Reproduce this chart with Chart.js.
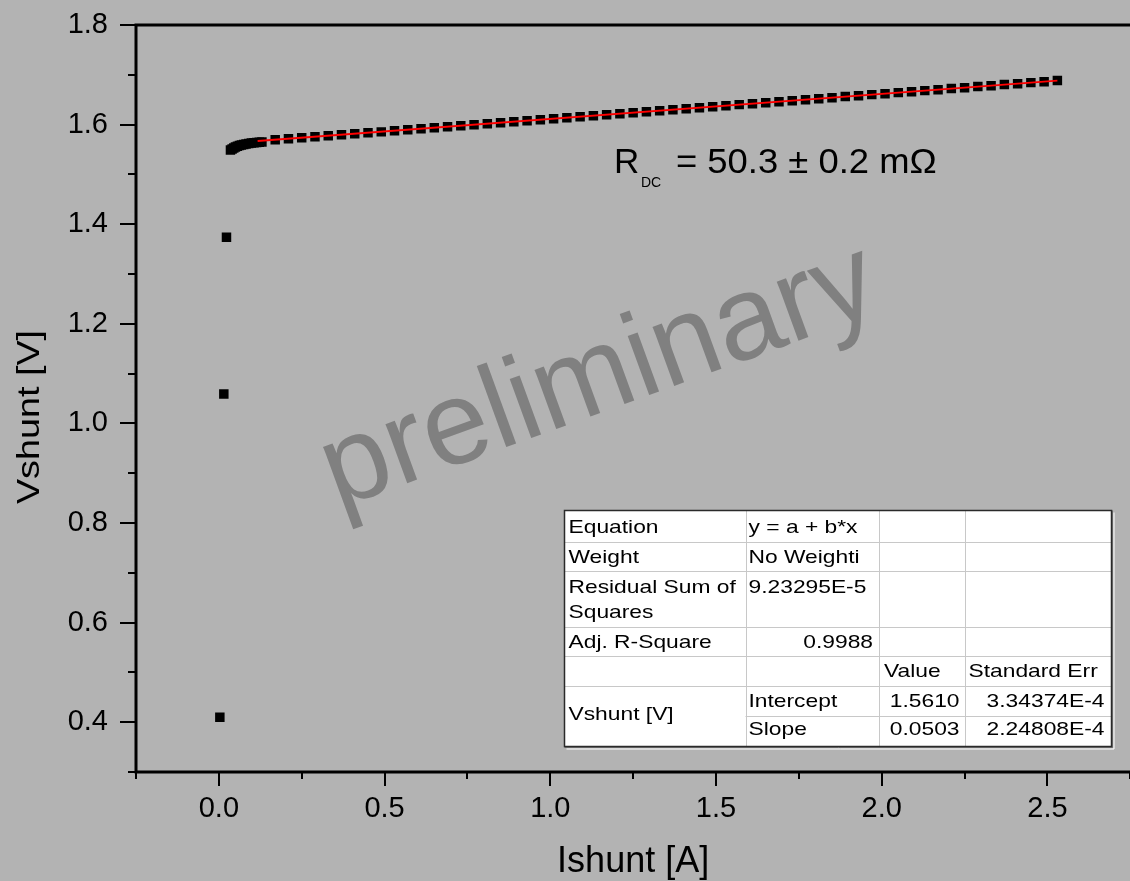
<!DOCTYPE html>
<html>
<head>
<meta charset="utf-8">
<script src="https://cdn.jsdelivr.net/npm/chart.js@4/dist/chart.umd.min.js"></script>
<style>
html,body{margin:0;padding:0;overflow:hidden;background:#b3b3b3;}
#wrap{width:1137px;height:881px;}
</style>
</head>
<body>
<div id="wrap"><canvas id="c" width="1137" height="881"></canvas></div>
<script>
// ---- data ----
const ishunt = [0.003, 0.015, 0.023, 0.035, 0.040, 0.045, 0.050, 0.056, 0.062, 0.068, 0.075, 0.082, 0.090, 0.098, 0.106, 0.114, 0.122, 0.130,
  0.170, 0.210, 0.250, 0.290, 0.330, 0.370, 0.410, 0.450, 0.490, 0.530, 0.570, 0.610, 0.650, 0.690, 0.730, 0.770, 0.810, 0.850, 0.890, 0.930,
  0.970, 1.010, 1.050, 1.090, 1.130, 1.170, 1.210, 1.250, 1.290, 1.330, 1.370, 1.410, 1.450, 1.490, 1.530, 1.570, 1.610, 1.650, 1.690, 1.730,
  1.770, 1.810, 1.850, 1.890, 1.930, 1.970, 2.010, 2.050, 2.090, 2.130, 2.170, 2.210, 2.250, 2.290, 2.330, 2.370, 2.410, 2.450, 2.490, 2.530];
const vshunt = [0.410, 1.059, 1.374, 1.549, 1.551, 1.553, 1.555, 1.5565, 1.558, 1.559, 1.560, 1.561, 1.562, 1.563, 1.5635, 1.564, 1.5645, 1.565,
  1.5694, 1.5718, 1.5735, 1.5758, 1.5774, 1.5797, 1.5815, 1.5838, 1.5854, 1.5878, 1.5895, 1.5918, 1.5936, 1.5958, 1.5975, 1.5998, 1.6016, 1.6039, 1.6056, 1.6079,
  1.6097, 1.6119, 1.6137, 1.6159, 1.6176, 1.6200, 1.6218, 1.6240, 1.6257, 1.6280, 1.6298, 1.6320, 1.6338, 1.6360, 1.6378, 1.6401, 1.6419, 1.6441, 1.6458, 1.6481,
  1.6499, 1.6521, 1.6539, 1.6562, 1.6580, 1.6602, 1.6620, 1.6642, 1.6660, 1.6682, 1.6700, 1.6723, 1.6741, 1.6763, 1.6781, 1.6803, 1.6821, 1.6843, 1.6861, 1.6884];
const fitX = [0.117, 2.530];
const fitY = [1.5669, 1.6883];
const xTickLabels = ['0.0', '0.5', '1.0', '1.5', '2.0', '2.5'];
const yTickLabels = ['0.4', '0.6', '0.8', '1.0', '1.2', '1.4', '1.6', '1.8'];
const xTitle = 'Ishunt [A]';
const yTitle = 'Vshunt [V]';
const watermark = 'preliminary';
const rdcMain = 'R';
const rdcSub = 'DC';
const rdcRest = '= 50.3 ± 0.2 mΩ';
const tableCol0 = ['Equation', 'Weight', 'Residual Sum of|Squares', 'Adj. R-Square', '', 'Vshunt [V]'];
const tableCol1 = ['y = a + b*x', 'No Weighti', '9.23295E-5', '0.9988', '', 'Intercept', 'Slope'];
const tableCol2 = ['', '', '', '', 'Value', '1.5610', '0.0503'];
const tableCol3 = ['', '', '', '', 'Standard Err', '3.34374E-4', '2.24808E-4'];

// ---- layout / style constants ----
const FONT = '"Liberation Sans", Arial, sans-serif';
const BG = '#b3b3b3';
const colX = [564.5, 745.5, 879, 964.5, 1111.5];
const rowY = [510.5, 541.5, 571, 626.5, 655.5, 686, 716, 746.5];
const baseY = [532.7, 563.3, 593.3, 648.3, 676.7, 706.7, 735];

const points = ishunt.map((x, i) => ({x: x, y: vshunt[i]}));
const fitPts = fitX.map((x, i) => ({x: x, y: fitY[i]}));

function near(v, step) { return Math.abs(v / step - Math.round(v / step)) < 1e-6; }

function sText(ctx, s, x, y, align, sx) {
  ctx.save();
  ctx.translate(x, y);
  ctx.scale(sx, 1);
  const w = ctx.measureText(s).width;
  let dx = 0;
  if (align === 'right') dx = -w;
  else if (align === 'center') dx = -w / 2;
  ctx.textAlign = 'left';
  ctx.fillText(s, dx, 0);
  ctx.restore();
}

function noPad(s) { s.paddingTop = 0; s.paddingBottom = 0; s.paddingLeft = 0; s.paddingRight = 0; }

const deco = {
  id: 'deco',
  beforeDraw(chart) {
    const ctx = chart.ctx;
    ctx.save();
    ctx.fillStyle = BG;
    ctx.fillRect(0, 0, chart.width, chart.height);
    ctx.restore();
  },
  beforeDatasetsDraw(chart) {
    const ctx = chart.ctx;
    ctx.save();
    ctx.translate(600, 380);
    ctx.rotate(-20 * Math.PI / 180);
    ctx.font = '119px ' + FONT;
    ctx.fillStyle = '#808080';
    ctx.textAlign = 'center';
    ctx.textBaseline = 'alphabetic';
    ctx.fillText(watermark, 0, 31);
    ctx.restore();
  },
  afterDraw(chart) {
    const ctx = chart.ctx;
    const a = chart.chartArea;
    const xs = chart.scales.x, ys = chart.scales.y;
    ctx.save();
    // frame
    ctx.strokeStyle = '#000';
    ctx.lineWidth = 3;
    ctx.beginPath();
    ctx.moveTo(a.left, a.top); ctx.lineTo(a.right + 5, a.top);
    ctx.moveTo(a.left, a.top - 1.5); ctx.lineTo(a.left, a.bottom + 1.5);
    ctx.moveTo(a.left - 1.5, a.bottom); ctx.lineTo(a.right + 5, a.bottom);
    ctx.stroke();
    // ticks
    ctx.lineWidth = 2;
    ctx.beginPath();
    xs.ticks.forEach(t => {
      const p = Math.round(xs.getPixelForValue(t.value));
      const len = near(t.value, 0.5) ? 14 : 7;
      ctx.moveTo(p, a.bottom); ctx.lineTo(p, a.bottom + len);
    });
    ys.ticks.forEach(t => {
      const p = Math.round(ys.getPixelForValue(t.value));
      const len = near(t.value, 0.2) ? 16 : 8;
      ctx.moveTo(a.left, p); ctx.lineTo(a.left - len, p);
    });
    ctx.stroke();

    // y title
    ctx.fillStyle = '#000';
    ctx.font = '32px ' + FONT;
    ctx.textBaseline = 'middle';
    ctx.save();
    ctx.translate(30, 417);
    ctx.rotate(-Math.PI / 2);
    sText(ctx, yTitle, 0, 0, 'center', 1.18);
    ctx.restore();

    // R_DC annotation
    ctx.textBaseline = 'alphabetic';
    ctx.font = '35px ' + FONT;
    sText(ctx, rdcMain, 614, 172.7, 'left', 1);
    sText(ctx, rdcRest, 676, 172.7, 'left', 1.04);
    ctx.font = '14px ' + FONT;
    sText(ctx, rdcSub, 641, 186.7, 'left', 1);

    // table
    ctx.fillStyle = '#ffffff';
    ctx.fillRect(colX[0], rowY[0], colX[4] - colX[0], rowY[7] - rowY[0]);
    ctx.strokeStyle = '#c8c8c8';
    ctx.lineWidth = 1;
    ctx.beginPath();
    for (let i = 1; i < 7; i++) {
      const x0 = (i === 6) ? colX[1] : colX[0];
      ctx.moveTo(x0, Math.round(rowY[i]) + 0.5); ctx.lineTo(colX[4], Math.round(rowY[i]) + 0.5);
    }
    for (let j = 1; j < 4; j++) {
      ctx.moveTo(Math.round(colX[j]) + 0.5, rowY[0]); ctx.lineTo(Math.round(colX[j]) + 0.5, rowY[7]);
    }
    ctx.stroke();
    // outer border
    ctx.strokeStyle = '#ffffff';
    ctx.lineWidth = 1;
    ctx.beginPath();
    ctx.moveTo(colX[4] + 2.5, rowY[0] + 2); ctx.lineTo(colX[4] + 2.5, rowY[7] + 2.5); ctx.lineTo(colX[0] + 2, rowY[7] + 2.5);
    ctx.stroke();
    ctx.strokeStyle = '#2a2a2a';
    ctx.lineWidth = 1.5;
    ctx.strokeRect(colX[0], rowY[0], colX[4] - colX[0], rowY[7] - rowY[0]);
    ctx.strokeStyle = '#606060';
    ctx.lineWidth = 1;
    ctx.beginPath();
    ctx.moveTo(colX[4] + 1, rowY[0]); ctx.lineTo(colX[4] + 1, rowY[7] + 1); ctx.lineTo(colX[0], rowY[7] + 1);
    ctx.stroke();

    ctx.fillStyle = '#000';
    ctx.font = '19px ' + FONT;
    ctx.textBaseline = 'alphabetic';
    const SX = 1.2;
    // column 0
    sText(ctx, tableCol0[0], colX[0] + 4, baseY[0], 'left', SX);
    sText(ctx, tableCol0[1], colX[0] + 4, baseY[1], 'left', SX);
    const rs = tableCol0[2].split('|');
    sText(ctx, rs[0], colX[0] + 4, baseY[2], 'left', SX);
    sText(ctx, rs[1], colX[0] + 4, 618.3, 'left', SX);
    sText(ctx, tableCol0[3], colX[0] + 4, baseY[3], 'left', SX);
    sText(ctx, tableCol0[5], colX[0] + 4, 720, 'left', SX);
    // column 1
    sText(ctx, tableCol1[0], colX[1] + 3, baseY[0], 'left', SX);
    sText(ctx, tableCol1[1], colX[1] + 3, baseY[1], 'left', SX);
    sText(ctx, tableCol1[2], colX[1] + 3, baseY[2], 'left', SX);
    sText(ctx, tableCol1[3], colX[2] - 6, baseY[3], 'right', SX);
    sText(ctx, tableCol1[5], colX[1] + 3, baseY[5], 'left', SX);
    sText(ctx, tableCol1[6], colX[1] + 3, baseY[6], 'left', SX);
    // column 2
    sText(ctx, tableCol2[4], colX[2] + 5, baseY[4], 'left', SX);
    sText(ctx, tableCol2[5], colX[3] - 5, baseY[5], 'right', SX);
    sText(ctx, tableCol2[6], colX[3] - 5, baseY[6], 'right', SX);
    // column 3
    sText(ctx, tableCol3[4], colX[3] + 4, baseY[4], 'left', SX);
    sText(ctx, tableCol3[5], colX[4] - 7, baseY[5], 'right', SX);
    sText(ctx, tableCol3[6], colX[4] - 7, baseY[6], 'right', SX);
    ctx.restore();
  }
};

new Chart(document.getElementById('c'), {
  type: 'scatter',
  data: {
    datasets: [
      {
        type: 'line',
        label: 'fit',
        data: fitPts,
        borderColor: '#ff0000',
        borderWidth: 2,
        pointRadius: 0,
        fill: false,
        tension: 0
      },
      {
        label: 'Vshunt',
        data: points,
        pointStyle: 'rect',
        pointRadius: 6.7,
        pointHoverRadius: 6.7,
        backgroundColor: '#000',
        borderColor: '#000',
        borderWidth: 0
      }
    ]
  },
  plugins: [deco],
  options: {
    responsive: false,
    animation: false,
    events: [],
    layout: {padding: {top: 25, left: 0, right: 0, bottom: 0}},
    plugins: {legend: {display: false}, tooltip: {enabled: false}},
    scales: {
      x: {
        type: 'linear',
        min: -0.25, max: 2.75,
        afterFit(s) { s.height = 109; noPad(s); },
        grid: {display: false, drawTicks: false},
        border: {display: false},
        ticks: {
          stepSize: 0.25,
          autoSkip: false,
          maxRotation: 0,
          padding: 20,
          color: '#000',
          font: {family: FONT, size: 29},
          callback(v) {
            if (!near(v, 0.5) || v < -1e-9) return '';
            const i = Math.round(v / 0.5);
            return xTickLabels[i] !== undefined ? xTickLabels[i] : '';
          }
        },
        title: {
          display: true,
          text: xTitle,
          color: '#000',
          font: {family: FONT, size: 36, lineHeight: 1},
          padding: {top: 0, bottom: 1}
        }
      },
      y: {
        type: 'linear',
        min: 0.3, max: 1.8,
        afterFit(s) { s.width = 136; noPad(s); },
        grid: {display: false, drawTicks: false},
        border: {display: false},
        ticks: {
          stepSize: 0.1,
          autoSkip: false,
          padding: 28,
          color: '#000',
          font: {family: FONT, size: 29},
          callback(v) {
            if (!near(v, 0.2)) return '';
            const i = Math.round((v - 0.4) / 0.2);
            return yTickLabels[i] !== undefined ? yTickLabels[i] : '';
          }
        },
        title: {display: false}
      }
    }
  }
});
</script>
</body>
</html>
